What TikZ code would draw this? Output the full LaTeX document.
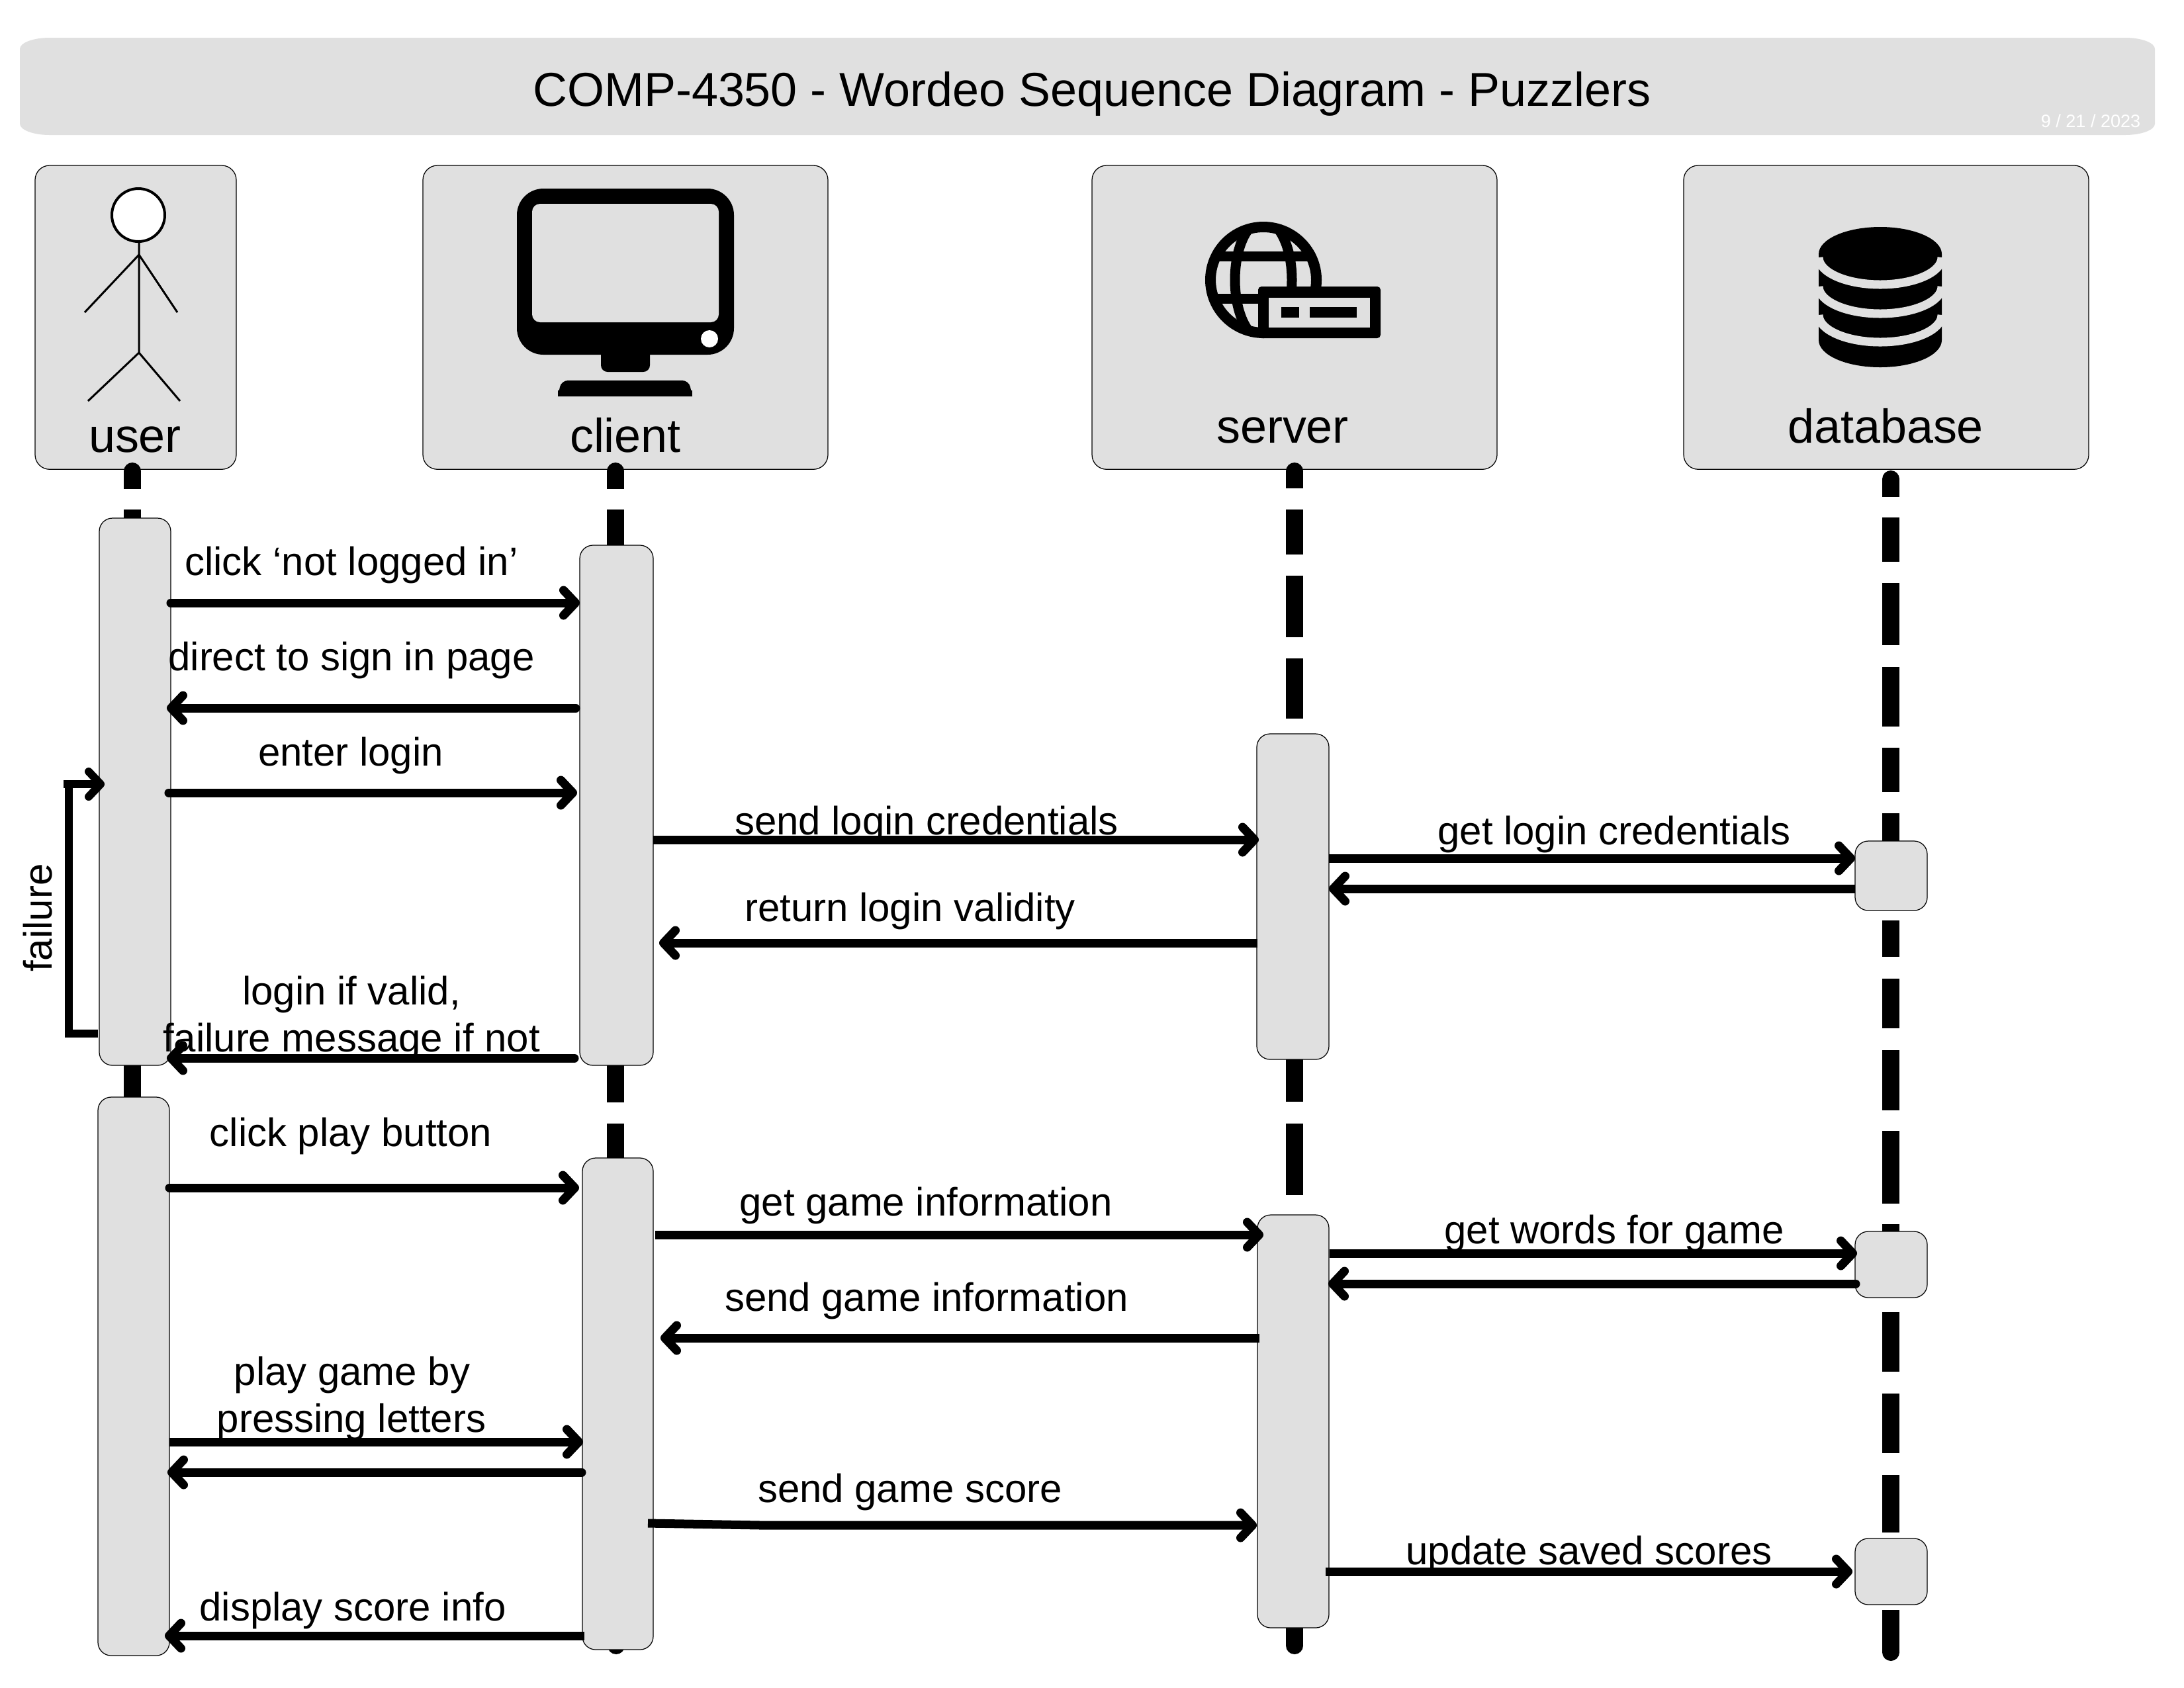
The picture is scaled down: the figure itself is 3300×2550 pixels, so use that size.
\documentclass[tikz,border=0pt]{standalone}
\usepackage{fontspec}
\setmainfont{Liberation Sans}
\usetikzlibrary{positioning,calc,arrows.meta}

\definecolor{panelgrey}{HTML}{E0E0E0}

\tikzset{
	headbox/.style={draw=black, line width=0.35pt, fill=panelgrey, rounded corners=0.22cm, inner sep=0pt, outer sep=0pt, anchor=north west},
	actnode/.style={draw=black, line width=0.35pt, fill=panelgrey, rounded corners=0.2cm, inner sep=0pt, outer sep=0pt, anchor=north west},
	lifeline/.style={line width=0.26cm, black},
	msg/.style={line width=0.13cm, black, -{Straight Barb[length=0.18cm,width=0.38cm,round]}},
	msgstart/.style={msg, line cap=round},
	lbl/.style={font=\fontsize{17.05}{20.2}\selectfont, align=center, anchor=base, inner sep=0pt, yshift=-0.02cm},
	headlbl/.style={font=\fontsize{20.45}{24}\selectfont, anchor=base, inner sep=0pt, yshift=-0.02cm},
}

\begin{document}
\begin{tikzpicture}[x=0.01cm, y=-0.01cm]
	\useasboundingbox (0,0) rectangle (3300,2550);
	
	% title bar
	\path[fill=panelgrey] (30,74) arc[start angle=180, end angle=270, x radius=45, y radius=17] -- (3211,57)
		arc[start angle=270, end angle=360, x radius=45, y radius=17] -- (3256,187)
		arc[start angle=0, end angle=90, x radius=45, y radius=17] -- (75,204)
		arc[start angle=90, end angle=180, x radius=45, y radius=17] -- cycle;
	\node[headlbl] (titletext) at (1650,158) {COMP-4350 - Wordeo Sequence Diagram - Puzzlers};
	\node[font=\fontsize{7.7}{10}\selectfont, text=white, anchor=base, inner sep=0pt] (datetext) at (3159,192) {9 / 21 / 2023};
	
	% one header box: name #1, left #2, right #3
	\newcommand{\headpanel}[3]{%
		\node[headbox, minimum width=(#3-#2)*0.01cm, minimum height=4.59cm] (#1) at (#2,250) {};
	}
	\headpanel{userHead}{53}{357}
	\headpanel{clientHead}{639}{1251}
	\headpanel{serverHead}{1650}{2262}
	\headpanel{databaseHead}{2544}{3156}
	
	\node[headlbl] (userText) at (204,681) {user};
	\node[headlbl] (clientText) at (945,681) {client};
	\node[headlbl] (serverText) at (1938,667) {server};
	\node[headlbl] (databaseText) at (2849,667) {database};
	
	% stick figure
	\draw[line width=0.04cm, fill=white] (209,325) circle[radius=40];
	\draw[line width=0.03cm] (210,365) -- (210,533) -- (133,606) (210,533) -- (272,606);
	\draw[line width=0.03cm] (128,472) -- (210,385) -- (268,472);
	
	% monitor
	\fill[rounded corners=0.1cm] (908,520) rectangle (982,562);
	\fill[rounded corners=0.4cm] (781,285) rectangle (1109,536);
	\fill[panelgrey, rounded corners=0.12cm] (804,308) rectangle (1086,487);
	\fill[white] (1072,512) circle[radius=13];
	\fill[rounded corners=0.1cm] (843,599) -- (848,575) -- (1041,575) -- (1046,599);
	\fill (843,590) rectangle (1046,599);
	
	% globe with card
	\begin{scope}
		\clip (1909,423) circle[radius=87];
		\draw[line width=0.15cm] (1822,387) -- (1996,387) (1822,451) -- (1996,451);
		\draw[line width=0.15cm] (1909,423) ellipse[x radius=43, y radius=90];
	\end{scope}
	\draw[line width=0.16cm] (1909,423) circle[radius=80];
	\fill[rounded corners=0.05cm] (1901,433) rectangle (2086,511);
	\fill[panelgrey] (1917,450) rectangle (2070,495);
	\fill (1936,464) rectangle (1963,480);
	\fill (1979,464) rectangle (2050,480);
	
	% database stack
	\fill (2748,384) arc[start angle=180, end angle=360, x radius=93, y radius=41] -- (2934,514) arc[start angle=0, end angle=180, x radius=93, y radius=41] -- cycle;
	\foreach \cy in {389,433,476}
		\draw[panelgrey, line width=0.13cm] (2748,\cy) arc[start angle=180, end angle=0, x radius=93, y radius=41];
	
	% lifeline at x #1, with visible stretches #2
	\newcommand{\lifepiece}[2]{%
		\foreach \a/\b in {#2}
			\draw[lifeline] (#1,\a) -- (#1,\b);
	}
	\lifepiece{200}{712/739,770/790,1600/1665}
	\lifepiece{930}{712/739,770/830,1600/1666,1698/1760}
	\lifepiece{931}{2470/2487}
	\lifepiece{1956}{712/738,770/838,870/963,995/1086,1590/1665,1698/1806,2450/2487}
	\lifepiece{2857}{724/751,782/849,881/975,1008/1098,1130/1197,1229/1280,1370/1375,1391/1446,1479/1554,1587/1678,1709/1819,1850/1870,1983/2073,2106/2196,2229/2316,2433/2497}
	\foreach \dx/\dy in {200/712,930/712,931/2487,1956/712,1956/2487,2857/724,2857/2497}
		\fill (\dx,\dy) circle[radius=13];
	
	% activation bars: name, left, right, top, bottom
	\newcommand{\actbox}[5]{%
		\node[actnode, minimum width=(#3-#2)*0.01cm, minimum height=(#5-#4)*0.01cm] (#1) at (#2,#4) {};
	}
	\actbox{userA}{150}{258}{783}{1610}
	\actbox{userB}{148}{256}{1658}{2502}
	\actbox{clientA}{876}{987}{824}{1610}
	\actbox{clientB}{880}{987}{1750}{2493}
	\actbox{serverA}{1899}{2008}{1109}{1601}
	\actbox{serverB}{1900}{2008}{1836}{2460}
	\actbox{dbA}{2803}{2912}{1271}{1376}
	\actbox{dbB}{2803}{2912}{1861}{1961}
	\actbox{dbC}{2803}{2912}{2325}{2425}
	
	% failure loop
	\draw[line width=0.12cm, -{Straight Barb[length=0.18cm,width=0.38cm,round]}] ([xshift=-0.02cm]userA.west |- 0,1562) -- (104,1562) -- (104,1185) -- ([xshift=0.08cm]userA.west |- 0,1185);
	\draw[line width=0.12cm] (96,1185) -- (110,1185);
	
	% login messages
	\draw[msgstart] (userA.east |- 0,911) -- (clientA.west |- 0,911);
	\draw[msgstart] ([xshift=-0.06cm]clientA.west |- 0,1070) -- ([xshift=-0.06cm]userA.east |- 0,1070);
	\draw[msgstart] ([xshift=-0.03cm]userA.east |- 0,1198) -- ([xshift=-0.04cm]clientA.west |- 0,1198);
	\draw[msgstart] ([xshift=-0.08cm]clientA.west |- 0,1599) -- ([xshift=-0.06cm]userA.east |- 0,1599);
	\draw[msg] (clientA.east |- 0,1269) -- ([xshift=0.03cm]serverA.west |- 0,1269);
	\draw[msg] ([xshift=0.01cm]serverA.west |- 0,1425) -- ([xshift=0.09cm]clientA.east |- 0,1425);
	\draw[msg] (serverA.east |- 0,1297) -- (dbA.west |- 0,1297);
	\draw[msg] (dbA.west |- 0,1343) -- (serverA.east |- 0,1343);
	
	% game messages
	\draw[msgstart] (userB.east |- 0,1795) -- ([xshift=-0.05cm]clientB.west |- 0,1795);
	\draw[msg] (userB.east |- 0,2179) -- ([xshift=0.01cm]clientB.west |- 0,2179);
	\draw[msgstart] ([xshift=-0.01cm]clientB.west |- 0,2225) -- ([xshift=-0.03cm]userB.east |- 0,2225);
	\draw[msg] ([xshift=0.03cm]clientB.west |- 0,2472) -- ([xshift=-0.07cm]userB.east |- 0,2472);
	\draw[msg] ([xshift=0.03cm]clientB.east |- 0,1866) -- ([xshift=0.09cm]serverB.west |- 0,1866);
	\draw[msg] ([xshift=0.03cm]serverB.west |- 0,2022) -- ([xshift=0.11cm]clientB.east |- 0,2022);
	\draw[msg] ([xshift=-0.08cm]clientB.east |- 0,2302) -- (1150,2305) -- ([xshift=-0.01cm]serverB.west |- 0,2305);
	\draw[msg] ([xshift=0.01cm]serverB.east |- 0,1894) -- ([xshift=0.03cm]dbB.west |- 0,1894);
	\draw[msgstart] ([xshift=0.01cm]dbB.west |- 0,1940) -- ([xshift=-0.01cm]serverB.east |- 0,1940);
	\draw[msg] ([xshift=-0.05cm]serverB.east |- 0,2375) -- ([xshift=-0.04cm]dbC.west |- 0,2375);
	
	% message labels
	\node[lbl] (lblNotLogged) at (531,867) {click ‘not logged in’};
	\node[lbl] (lblDirect) at (531,1011) {direct to sign in page};
	\node[lbl] (lblEnter) at (530,1155) {enter login};
	\node[lbl] (lblValid) at (531,1516) {login if valid,};
	\node[lbl] (lblFailMsg) at (531,1587) {failure message if not};
	\node[lbl] (lblSendCred) at (1400,1259) {send login credentials};
	\node[lbl] (lblReturn) at (1375,1390) {return login validity};
	\node[lbl] (lblGetCred) at (2439,1274) {get login credentials};
	\node[lbl] (lblPlayBtn) at (530,1730) {click play button};
	\node[lbl] (lblPlayBy) at (532,2091) {play game by};
	\node[lbl] (lblLetters) at (531,2162) {pressing letters};
	\node[lbl] (lblScoreInfo) at (533,2447) {display score info};
	\node[lbl] (lblGetGame) at (1399,1835) {get game information};
	\node[lbl] (lblSendGame) at (1400,1979) {send game information};
	\node[lbl] (lblSendScore) at (1375,2268) {send game score};
	\node[lbl] (lblGetWords) at (2439,1877) {get words for game};
	\node[lbl] (lblUpdate) at (2401,2362) {update saved scores};
	\node[lbl, rotate=90] (lblFailure) at (78,1385) {failure};
	
\end{tikzpicture}
\end{document}
